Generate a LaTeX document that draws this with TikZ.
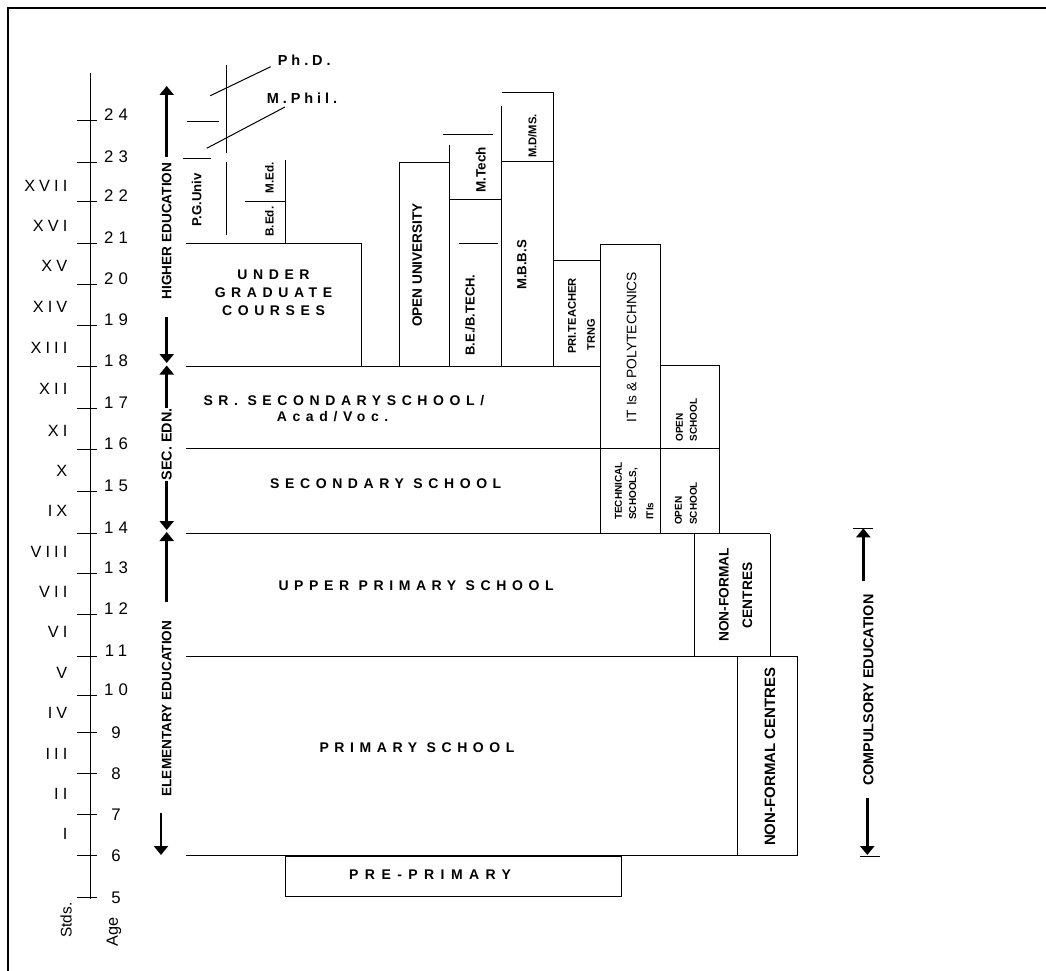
\documentclass[tikz,border=0pt]{standalone}
\usepackage{fontspec}
\setmainfont{Liberation Sans}
\usetikzlibrary{arrows.meta}
\tikzset{
  ln/.style={line width=1pt},
  arr/.style={line width=2.8pt,-{Triangle[width=14pt,length=9pt]}},
  vb/.style={rotate=90,inner sep=0pt,font=\fontsize{#1}{#1}\selectfont\bfseries},
  vbl/.style={rotate=90,inner sep=0pt,anchor=west,font=\fontsize{#1}{#1}\selectfont\bfseries},
  big/.style={inner sep=0pt,font=\fontsize{14}{17.7}\selectfont\bfseries\addfontfeature{LetterSpace=40}},
  pre/.style={inner sep=0pt,font=\fontsize{14}{17.7}\selectfont\bfseries\addfontfeature{LetterSpace=46}},
  num/.style={inner sep=0pt,font=\fontsize{16.8}{18}\selectfont\addfontfeature{LetterSpace=30}},
  rom/.style={inner sep=0pt,font=\fontsize{16.3}{18}\selectfont\addfontfeature{LetterSpace=25}},
  deg/.style={inner sep=0pt,font=\fontsize{14.5}{16}\selectfont\bfseries\addfontfeature{LetterSpace=27}},
}
\begin{document}
\begin{tikzpicture}[x=1pt,y=-1pt]
\useasboundingbox (0,0) rectangle (1046,971);
\draw[line width=2pt] (8,971) -- (8,8) -- (1046,8);

% age axis
\draw[ln] (90,72.7) -- (90,899);
\foreach \a/\y in {24/121,23/162,22/201.7,21/243,20/284.3,19/325,18/366.7,17/408.3,16/449,15/491,14/533.5,13/573.3,12/614,11/656,10/695}{
  \draw[ln] (77,\y) -- (97,\y);
  \node[num,anchor=base] (age\a) at (116,\y) {\a};
}
\foreach \a/\y in {9/732,8/773.3,7/814.3,6/855.5,5/897.7}{
  \draw[ln] (77,\y) -- (97,\y);
  \node[num,anchor=base] (age\a) at (116,\y+6.2) {\a};
}
\foreach \r/\y in {I/834,II/794,III/754,IV/712.5,V/673,VI/632,VII/592,VIII/552,IX/511,X/471,XI/431,XII/389,XIII/348,XIV/307,XV/266,XVI/226,XVII/186}{
  \node[rom,anchor=base east] (std\r) at (67.5,\y+5.8) {\r};
}
\node[rotate=90,inner sep=0pt,font=\fontsize{15.4}{16}\selectfont] (stds) at (66,920) {Stds.};
\node[rotate=90,inner sep=0pt,font=\fontsize{16.3}{17}\selectfont] (age) at (114,932) {Age};

% stage arrows
\node[vb=13.6] (he) at (166.7,231) {HIGHER EDUCATION};
\coordinate (heT) at (166.7,86); \coordinate (heA) at (166.7,156.7);
\coordinate (heB) at (166.7,317); \coordinate (heD) at (166.7,363);
\draw[arr] (heA) -- (heT);
\draw[arr] (heB) -- (heD);
\node[vb=14.4] (sec) at (166.7,444.5) {SEC. EDN.};
\coordinate (secT) at (166.7,365.5); \coordinate (secD) at (166.7,530);
\draw[arr] (sec.east) -- (secT);
\draw[arr] (sec.west) -- (secD);
\node[vb=13.6] (el) at (166.7,708.5) {ELEMENTARY EDUCATION};
\coordinate (elA) at (166.7,602); \coordinate (elT) at (166.7,532);
\coordinate (elB) at (161,812.7); \coordinate (elD) at (161,855);
\draw[arr] (elA) -- (elT);
\draw[arr] (elB) -- (elD);

% compulsory education
\node[vb=14.4] (ce) at (868.3,690) {COMPULSORY EDUCATION};
\coordinate (ceT) at (863.3,528.3); \coordinate (ceA) at (863.3,581);
\coordinate (ceB) at (867.3,798.3); \coordinate (ceD) at (867.3,855);
\draw[ln] (853,528.3) -- (873,528.3);
\draw[ln] (860,856.7) -- (880,856.7);
\draw[arr] (ceA) -- (ceT);
\draw[arr] (ceB) -- (ceD);

% post-graduate area
\draw[ln] (226.7,65) -- (226.7,152.7);
\draw[ln] (226.7,161.7) -- (226.7,235);
\draw[ln] (186.7,121.7) -- (218.7,121.7);
\draw[ln] (183.3,158.3) -- (210.7,158.3);
\node[deg,anchor=base west] (phd) at (277.7,65.5) {Ph.D.};
\node[deg,anchor=base west] (mphil) at (266.7,103) {M.Phil.};
\coordinate (phdA) at (210.3,95.7); \coordinate (phdB) at (270.7,66.7);
\coordinate (mphA) at (206.7,148.3); \coordinate (mphB) at (285,107);
\draw[ln] (phdA) -- (phdB);
\draw[ln] (mphA) -- (mphB);
\node[vb=13.2] (pg) at (196.7,200) {P.G.Univ};
\draw[ln] (285.3,160) -- (285.3,243);
\draw[ln] (245.3,201.7) -- (285.3,201.7);
\node[vb=11.7] (bed) at (269.5,221.7) {B.Ed.};
\node[vb=11.7] (med) at (269.5,177.5) {M.Ed.};

% under graduate
\draw[ln] (186,243) -- (361,243) -- (361,366.7);
\node[big,align=center] (ug) at (273.5,292.8) {UNDER\\GRADUATE\\COURSES};

% open university, engineering, medicine, teacher training
\draw[ln] (399.3,366.7) -- (399.3,162.3) -- (449.3,162.3);
\node[vb=13.6] (ou) at (417.3,265) {OPEN UNIVERSITY};
\draw[ln] (449.3,145) -- (449.3,366.7);
\draw[ln] (449.3,199.3) -- (501.7,199.3);
\draw[ln] (442.7,134.5) -- (493.3,134.5);
\draw[ln] (459,243.3) -- (497.7,243.3);
\node[vb=13.5] (mtech) at (480.7,170) {M.Tech};
\node[vb=13] (be) at (470,315) {B.E./B.TECH.};
\draw[ln] (501.7,106) -- (501.7,366.7);
\draw[ln] (502.3,92.7) -- (553.3,92.7) -- (553.3,366.7);
\draw[ln] (501.7,161.7) -- (553.3,161.7);
\node[vb=13.2] (mbbs) at (521.7,265) {M.B.B.S};
\node[vb=11.2] (md) at (532.5,136) {M.D/MS.};
\draw[ln] (553.3,260) -- (600.7,260);
\node[vb=11.2] (pri) at (572,316) {PRI.TEACHER};
\node[vb=11] (trng) at (591,335) {TRNG};

% ITIs, polytechnics, open school
\draw[ln] (600.7,534) -- (600.7,244) -- (660.3,244) -- (660.3,534);
\node[rotate=90,inner sep=0pt,font=\fontsize{13.8}{14}\selectfont] (iti) at (631.7,347) {IT Is \& POLYTECHNICS};
\draw[ln] (660.3,365.7) -- (719.3,365.7) -- (719.3,534);
\node[vbl=10] (os1a) at (679.3,441.7) {OPEN};
\node[vbl=10] (os1b) at (693.3,441.7) {SCHOOL};
\node[vbl=10] (tsa) at (618.3,520) {TECHNICAL};
\node[vbl=10] (tsb) at (633.3,520) {SCHOOLS,};
\node[vbl=10] (tsc) at (650,520) {ITIs};
\node[vbl=10] (os2a) at (678.3,525) {OPEN};
\node[vbl=10] (os2b) at (693.3,525) {SCHOOL};

% school rows
\draw[ln] (186,366.7) -- (600.7,366.7);
\node[big,anchor=base west] (sr1) at (203.3,405) {SR. SECONDARYSCHOOL/};
\node[big,anchor=base west] (sr2) at (276.7,421.7) {Acad/Voc.};
\draw[ln] (186,448.3) -- (719.3,448.3);
\node[big,anchor=base west] (ss) at (270,488.3) {SECONDARY SCHOOL};
\draw[ln] (186,533.5) -- (770,533.5);
\node[big,anchor=base west] (ups) at (278.3,590) {UPPER PRIMARY SCHOOL};
\draw[ln] (694.3,533.5) -- (694.3,656);
\draw[ln] (770,533.5) -- (770,656);
\node[vb=13.7] (nf1a) at (724,595) {NON-FORMAL};
\node[vb=13.7] (nf1b) at (747.3,595.3) {CENTRES};
\draw[ln] (186,656) -- (797.3,656);
\node[big,anchor=base west] (ps) at (319.3,752.3) {PRIMARY SCHOOL};
\draw[ln] (737.3,656) -- (737.3,855.5);
\draw[ln] (797.3,656) -- (797.3,855.5);
\node[vb=15] (nf2) at (770,756.7) {NON-FORMAL CENTRES};
\draw[ln] (186,855.5) -- (797.3,855.5);
\draw[ln] (285.7,856) rectangle (621.7,896.7);
\node[pre,anchor=base west] (pp) at (349,879) {PRE-PRIMARY};
\end{tikzpicture}
\end{document}
